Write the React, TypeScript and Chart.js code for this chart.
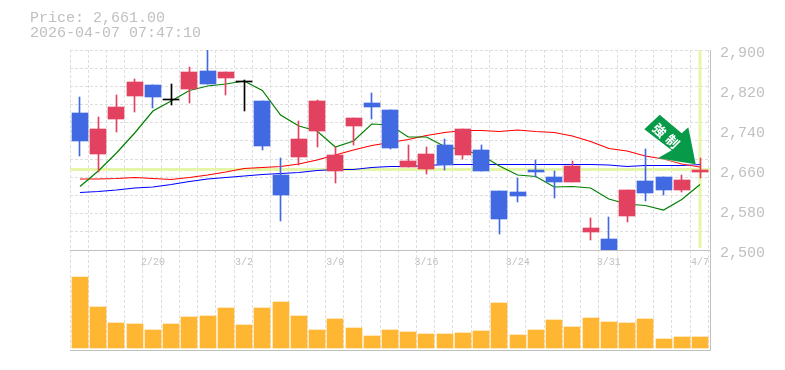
import React, { useEffect, useRef } from "react";
import { Chart, registerables } from "chart.js";

Chart.register(...registerables);

const titleLines = ["Price: 2,661.00", "2026-04-07 07:47:10"];
const dateLabels = ["", "", "", "", "2/20", "", "", "", "", "3/2", "", "", "", "", "3/9", "", "", "", "", "3/16", "", "", "", "", "3/24", "", "", "", "", "3/31", "", "", "", "", "4/7"];
const opens = [2774, 2693, 2762, 2808, 2830, 2802, 2822, 2858, 2844, 2838, 2798, 2650, 2686, 2739, 2658, 2748, 2794, 2780, 2666, 2662, 2710, 2690, 2700, 2618, 2616, 2660, 2646, 2636, 2536, 2522, 2568, 2638, 2646, 2620, 2656];
const highs = [2806, 2766, 2810, 2842, 2830, 2832, 2866, 2900, 2856, 2840, 2798, 2684, 2758, 2800, 2706, 2764, 2814, 2780, 2710, 2706, 2722, 2742, 2710, 2618, 2644, 2680, 2658, 2678, 2564, 2566, 2620, 2702, 2646, 2650, 2684];
const lows = [2689, 2657, 2736, 2776, 2784, 2790, 2794, 2832, 2810, 2778, 2700, 2558, 2670, 2706, 2634, 2710, 2762, 2702, 2666, 2652, 2660, 2682, 2658, 2532, 2596, 2646, 2604, 2636, 2520, 2500, 2556, 2598, 2610, 2616, 2644];
const closes = [2719, 2742, 2786, 2836, 2806, 2802, 2856, 2832, 2856, 2838, 2708, 2610, 2722, 2798, 2690, 2764, 2786, 2704, 2678, 2692, 2671, 2742, 2658, 2562, 2608, 2656, 2636, 2668, 2544, 2500, 2620, 2614, 2620, 2640, 2661];
const maShort = [2627, 2658, 2694, 2734, 2778, 2798, 2819, 2828, 2832, 2838, 2819, 2770, 2748, 2738, 2706, 2718, 2752, 2750, 2726, 2726, 2707, 2700, 2690, 2668, 2650, 2647, 2626, 2627, 2624, 2602, 2592, 2589, 2580, 2601, 2631];
const maMid = [2642, 2642, 2643, 2645, 2643, 2641, 2645, 2650, 2656, 2663, 2665, 2667, 2672, 2680, 2690, 2700, 2709, 2715, 2721, 2729, 2735, 2739, 2739, 2737, 2740, 2737, 2735, 2728, 2717, 2703, 2698, 2688, 2682, 2672, 2666];
const maLong = [2615, 2617, 2620, 2624, 2626, 2631, 2637, 2642, 2645, 2648, 2651, 2653, 2655, 2659, 2661, 2661, 2665, 2667, 2667, 2669, 2671, 2671, 2671, 2671, 2671, 2671, 2671, 2671, 2671, 2670, 2667, 2669, 2669, 2669, 2671];
const volumes = [7100, 4100, 2500, 2400, 1800, 2400, 3100, 3200, 4000, 2300, 4000, 4600, 3200, 1800, 2900, 2000, 1200, 1800, 1600, 1400, 1400, 1500, 1700, 4500, 1300, 1800, 2800, 2100, 3000, 2600, 2500, 2900, 900, 1100, 1100];
const priceLabelTicks = [2500, 2580, 2660, 2740, 2820, 2900];
const lastPrice = 2661;
const lastPriceLineEnd = 2504;
const arrowText = ["強", "制"];

const X_MIN = -0.548;
const X_MAX = 34.548;
const PRICE_MIN = 2500;
const PRICE_MAX = 2900;
const MONO = '"Liberation Mono", monospace';
const GREY = "#c0c0c0";
const GRID = "#dedede";
const GRID_DASH = [3, 2];
const BLUE = "#4169e1";
const RED = "#e2425f";
const indices = opens.map((_, i) => i);
const candleColor = indices.map((i) => (closes[i] > opens[i] ? RED : closes[i] < opens[i] ? BLUE : "#000000"));
const line = (vals: number[], color: string, order: number) => ({
  type: "line" as const,
  data: vals.map((y, x) => ({ x, y })),
  borderColor: color,
  borderWidth: 1.2,
  pointRadius: 0,
  tension: 0,
  yAxisID: "y",
  xAxisID: "x",
  order,
});

const snapPlugin = {
  id: "snap",
  afterDatasetsUpdate(chart: any) {
    chart.data.datasets.forEach((ds: any, k: number) => {
      if (ds.type !== "bar") return;
      chart.getDatasetMeta(k).data.forEach((el: any) => {
        el.x = ds.barThickness === 1 ? Math.floor(el.x) + 0.5 : Math.round(el.x);
        let top = Math.round(Math.min(el.y, el.base));
        let bottom = Math.round(Math.max(el.y, el.base));
        if (bottom === top) bottom = top + 1;
        el.y = top;
        el.base = bottom;
        el.height = top - bottom;
      });
    });
  },
};

const decorPlugin = {
  id: "decor",
  afterDraw(chart: any) {
    const { ctx, scales } = chart;
    ctx.save();
    ctx.fillStyle = GREY;
    ctx.font = `15px ${MONO}`;
    ctx.textBaseline = "middle";
    ctx.textAlign = "left";
    titleLines.forEach((t, i) => ctx.fillText(t, 30, 18.5 + i * 15));

    // Arrow anchored on the last candle.
    const tipX = scales.x.getPixelForValue(indices[indices.length - 1]) - 4.3;
    const tipY = scales.y.getPixelForValue(lastPrice) - 5.2;
    const shape = [[0, 0], [-7.4, -37], [-14, -31], [-36, -49.5], [-51.4, -35], [-24, -14], [-38, -6]];
    ctx.beginPath();
    shape.forEach(([dx, dy], i) => (i ? ctx.lineTo(tipX + dx, tipY + dy) : ctx.moveTo(tipX + dx, tipY + dy)));
    ctx.closePath();
    ctx.shadowColor = "rgba(255,255,255,0.95)";
    ctx.shadowBlur = 3;
    ctx.fillStyle = "#079a48";
    ctx.fill();
    ctx.shadowBlur = 0;
    ctx.fillStyle = "#ffffff";
    ctx.font = `bold 13px "Noto Sans CJK JP"`;
    ctx.textAlign = "center";
    [[-36, -34], [-23, -23]].forEach(([dx, dy], i) => {
      ctx.save();
      ctx.translate(tipX + dx, tipY + dy);
      ctx.rotate(Math.PI / 4);
      ctx.fillText(arrowText[i], 0, 0);
      ctx.restore();
    });
    ctx.restore();
  },
};

export default function App() {
  const ref = useRef<HTMLCanvasElement>(null);
  useEffect(() => {
    const candleBodies = indices.map((x) => ({ x, y: [opens[x], closes[x]] }));
    const wicks = indices.map((x) => ({ x, y: [lows[x], highs[x]] }));
    const chart = new Chart(ref.current!, {
      type: "bar",
      data: {
        datasets: [
          { type: "bar", data: volumes.map((y, x) => ({ x, y })), backgroundColor: "#ffb733", barThickness: 16, grouped: false, yAxisID: "vol", xAxisID: "x", order: 9 } as any,
          { type: "line", data: [{ x: X_MIN, y: lastPrice }, { x: X_MAX, y: lastPrice }], borderColor: "#e6f6a8", borderWidth: 3, pointRadius: 0, yAxisID: "y", xAxisID: "x", order: 8 } as any,
          { type: "line", data: [{ x: indices.length - 1, y: lastPriceLineEnd }, { x: indices.length - 1, y: PRICE_MAX }], borderColor: "#e6f6a8", borderWidth: 3, pointRadius: 0, yAxisID: "y", xAxisID: "x", order: 7 } as any,
          line(maLong, "#0000ff", 6),
          line(maMid, "#ff0000", 5),
          line(maShort, "#008000", 4),
          { type: "bar", data: wicks, backgroundColor: candleColor, barThickness: 1, grouped: false, yAxisID: "y", xAxisID: "x", order: 3 } as any,
          { type: "bar", data: candleBodies, backgroundColor: candleColor, barThickness: 16, grouped: false, yAxisID: "y", xAxisID: "x", order: 2 } as any,
        ],
      },
      options: {
        responsive: false,
        animation: false,
        parsing: { xAxisKey: "x", yAxisKey: "y" },
        layout: { padding: { left: 70, top: 50, right: 0, bottom: 20 } },
        plugins: { legend: { display: false }, tooltip: { enabled: false }, title: { display: false } },
        scales: {
          x: {
            type: "linear",
            min: X_MIN,
            max: X_MAX,
            offset: false,
            position: { y: PRICE_MIN } as any,
            afterBuildTicks(scale: any) {
              const gridTicks = Array.from({ length: 36 }, (_, k) => ({ value: X_MIN + k * 1, grid: true }));
              const labelTicks = dateLabels.flatMap((text, i) => (text ? [{ value: i, text }] : []));
              scale.ticks = [...gridTicks, ...labelTicks].sort((a: any, b: any) => a.value - b.value);
            },
            grid: {
              offset: false,
              drawTicks: false,
              tickLength: 0,
              lineWidth: 1,
              color: (c: any) => (c.tick && c.tick.grid ? GRID : "rgba(0,0,0,0)"),
            },
            border: { display: true, color: GREY, width: 1, dash: GRID_DASH },
            ticks: {
              autoSkip: false,
              maxRotation: 0,
              padding: 6,
              color: GREY,
              font: { family: MONO, size: 10 },
              callback: (_v: any, i: number, ticks: any[]) => (ticks[i] as any).text || "",
            },
          },
          x2: {
            type: "linear",
            min: X_MIN,
            max: X_MAX,
            offset: false,
            position: "bottom",
            grid: { display: false, drawTicks: false },
            border: { display: true, color: GREY, width: 1 },
            ticks: { display: false },
            afterFit(s: any) { s.height = 0; },
          },
          y: {
            type: "linear",
            min: PRICE_MIN,
            max: PRICE_MAX,
            position: "right",
            stack: "panels",
            stackWeight: 2,
            offset: false,
            afterFit(s: any) { s.width = 75; },
            afterBuildTicks(scale: any) {
              const all: any[] = Array.from({ length: 12 }, (_, k) => ({ value: PRICE_MIN + (k * (PRICE_MAX - PRICE_MIN)) / 11, grid: true }));
              priceLabelTicks.forEach((value) => {
                const same = all.find((t) => Math.abs(t.value - value) < 0.01);
                if (same) same.show = true;
                else all.push({ value, show: true });
              });
              scale.ticks = all.sort((a, b) => a.value - b.value);
            },
            grid: {
              drawTicks: false,
              tickLength: 0,
              color: (c: any) => (c.tick && c.tick.grid ? GRID : "rgba(0,0,0,0)"),
            },
            border: { display: true, color: GREY, width: 1, dash: GRID_DASH },
            ticks: {
              autoSkip: false,
              padding: 10,
              color: GREY,
              align: "center",
              labelOffset: 3.5,
              font: { family: MONO, size: 15 },
              callback: (v: any, i: number, ticks: any[]) => ((ticks[i] as any).show ? Number(v).toLocaleString("en-US") : ""),
            },
          },
          vol: {
            type: "linear",
            min: -200,
            max: 9800,
            position: "right",
            stack: "panels",
            stackWeight: 1,
            offset: false,
            afterFit(s: any) { s.width = 75; },
            grid: { display: false, drawTicks: false },
            border: { display: true, color: GREY, width: 1 },
            ticks: { display: false },
          },
        },
      } as any,
      plugins: [snapPlugin, decorPlugin] as any,
    });
    return () => chart.destroy();
  }, []);
  return (
    <div style={{ position: "absolute", left: 0, top: 0, width: 785, height: 370 }}>
      <canvas ref={ref} width={785} height={370} style={{ display: "block" }} />
    </div>
  );
}
